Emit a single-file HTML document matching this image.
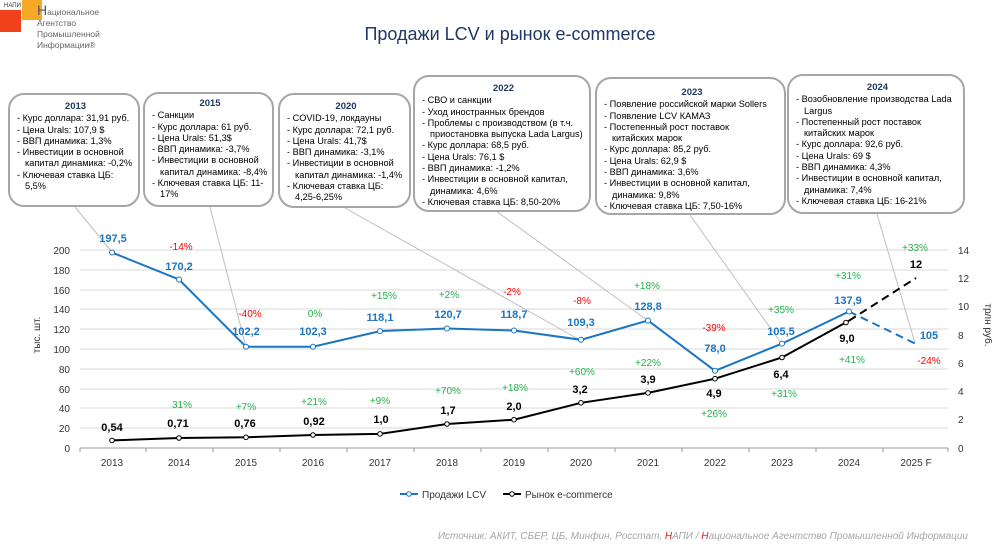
<!DOCTYPE html>
<html><head><meta charset="utf-8"><style>
body{margin:0;background:#fff;width:992px;height:550px;overflow:hidden;font-family:"Liberation Sans",Arial,sans-serif}
.box{position:absolute;border:2px solid #a6a6a6;border-radius:16px;background:#fff;font-size:9.2px;line-height:11.3px;color:#000;padding:6px 4px 0 7px;box-sizing:border-box}
.box b{display:block;text-align:center;color:#1f3864;font-size:9.5px;margin-bottom:1px}
.box div{padding-left:8px;text-indent:-8px}
</style></head><body>
<div style="position:absolute;left:0;top:10px;width:21px;height:22px;background:#f0401c"></div>
<div style="position:absolute;left:22px;top:0;width:20px;height:20px;background:#f6a927"></div>
<div style="position:absolute;left:4px;top:3px;font-size:6px;color:#333">НАПИ</div>
<div style="position:absolute;left:37px;top:5px;font-size:8.5px;line-height:11px;color:#666"><span style="font-size:14px;color:#555">Н</span>ациональное<br>Агентство<br>Промышленной<br>Информации®</div>
<div style="position:absolute;left:0;width:992px;top:24px;text-align:center;font-size:18px;color:#1f3864;padding-left:28px;box-sizing:border-box">Продажи LCV и рынок e-commerce</div>

<svg style="position:absolute;left:0;top:0" width="992" height="550">
<g stroke="#d9d9d9" stroke-width="1">
<line x1="80" y1="250" x2="948" y2="250"/><line x1="80" y1="270" x2="948" y2="270"/><line x1="80" y1="290" x2="948" y2="290"/><line x1="80" y1="309" x2="948" y2="309"/><line x1="80" y1="329" x2="948" y2="329"/><line x1="80" y1="349" x2="948" y2="349"/><line x1="80" y1="369" x2="948" y2="369"/><line x1="80" y1="389" x2="948" y2="389"/><line x1="80" y1="408" x2="948" y2="408"/><line x1="80" y1="428" x2="948" y2="428"/>
</g>
<line x1="80" y1="448" x2="948" y2="448" stroke="#999"/>
<g stroke="#999"><line x1="80" y1="448" x2="80" y2="452"/><line x1="146" y1="448" x2="146" y2="452"/><line x1="213" y1="448" x2="213" y2="452"/><line x1="280" y1="448" x2="280" y2="452"/><line x1="347" y1="448" x2="347" y2="452"/><line x1="414" y1="448" x2="414" y2="452"/><line x1="481" y1="448" x2="481" y2="452"/><line x1="548" y1="448" x2="548" y2="452"/><line x1="615" y1="448" x2="615" y2="452"/><line x1="682" y1="448" x2="682" y2="452"/><line x1="749" y1="448" x2="749" y2="452"/><line x1="816" y1="448" x2="816" y2="452"/><line x1="883" y1="448" x2="883" y2="452"/><line x1="948" y1="448" x2="948" y2="452"/></g>
<g stroke="#bfbfbf" stroke-width="1">
<line x1="75" y1="207" x2="112" y2="252"/><line x1="210" y1="207" x2="246" y2="347"/><line x1="345" y1="208" x2="580" y2="340"/><line x1="496" y1="211" x2="647" y2="320"/><line x1="690" y1="215" x2="781" y2="343"/><line x1="877" y1="214" x2="915" y2="343"/>
</g>
<polyline fill="none" stroke="#000" stroke-width="2" points="112,440.4 179,438 246,437.3 313,435 380,433.9 447,424 514,419.7 581,402.8 648,392.9 715,378.7 782,357.5 849,320.7"/>
<line x1="849" y1="320.7" x2="916" y2="278" stroke="#000" stroke-width="2" stroke-dasharray="8,5"/>
<polyline fill="none" stroke="#1a75c2" stroke-width="2" points="112,252.5 179,279.5 246,346.8 313,346.7 380,331.1 447,328.5 514,330.5 581,339.8 648,320.5 715,370.8 782,343.6 849,311.5"/>
<line x1="849" y1="311.5" x2="916" y2="344" stroke="#1a75c2" stroke-width="2" stroke-dasharray="8,5"/>
<g fill="#fff" stroke="#1a75c2" stroke-width="1"><circle cx="112" cy="252.5" r="2.5"/><circle cx="179" cy="279.5" r="2.5"/><circle cx="246" cy="346.8" r="2.5"/><circle cx="313" cy="346.7" r="2.5"/><circle cx="380" cy="331.1" r="2.5"/><circle cx="447" cy="328.5" r="2.5"/><circle cx="514" cy="330.5" r="2.5"/><circle cx="581" cy="339.8" r="2.5"/><circle cx="648" cy="320.5" r="2.5"/><circle cx="715" cy="370.8" r="2.5"/><circle cx="782" cy="343.6" r="2.5"/><circle cx="849" cy="311.5" r="2.5"/></g>
<g fill="#fff" stroke="#000" stroke-width="1"><circle cx="112" cy="440.4" r="2.3"/><circle cx="179" cy="438" r="2.3"/><circle cx="246" cy="437.3" r="2.3"/><circle cx="313" cy="435" r="2.3"/><circle cx="380" cy="433.9" r="2.3"/><circle cx="447" cy="424" r="2.3"/><circle cx="514" cy="419.7" r="2.3"/><circle cx="581" cy="402.8" r="2.3"/><circle cx="648" cy="392.9" r="2.3"/><circle cx="715" cy="378.7" r="2.3"/><circle cx="782" cy="357.5" r="2.3"/><circle cx="846" cy="322.5" r="2.3"/></g>
<g font-size="10" fill="#333" text-anchor="end"><text x="70" y="254">200</text><text x="70" y="274">180</text><text x="70" y="294">160</text><text x="70" y="313">140</text><text x="70" y="333">120</text><text x="70" y="353">100</text><text x="70" y="373">80</text><text x="70" y="393">60</text><text x="70" y="412">40</text><text x="70" y="432">20</text><text x="70" y="452">0</text></g>
<g font-size="10" fill="#333"><text x="958" y="254">14</text><text x="958" y="282">12</text><text x="958" y="310">10</text><text x="958" y="339">8</text><text x="958" y="367">6</text><text x="958" y="395">4</text><text x="958" y="423">2</text><text x="958" y="452">0</text></g>
<text transform="translate(40,335) rotate(-90)" font-size="10" fill="#333" text-anchor="middle">тыс. шт.</text>
<text transform="translate(985,325) rotate(90)" font-size="10" fill="#333" text-anchor="middle">трлн руб.</text>
<g font-size="10" fill="#333" text-anchor="middle"><text x="112" y="466">2013</text><text x="179" y="466">2014</text><text x="246" y="466">2015</text><text x="313" y="466">2016</text><text x="380" y="466">2017</text><text x="447" y="466">2018</text><text x="514" y="466">2019</text><text x="581" y="466">2020</text><text x="648" y="466">2021</text><text x="715" y="466">2022</text><text x="782" y="466">2023</text><text x="849" y="466">2024</text><text x="916" y="466">2025 F</text></g>
<g font-size="11" font-weight="bold" fill="#1a75c2" text-anchor="middle"><text x="113" y="242">197,5</text><text x="179" y="270">170,2</text><text x="246" y="335">102,2</text><text x="313" y="335">102,3</text><text x="380" y="321">118,1</text><text x="448" y="318">120,7</text><text x="514" y="318">118,7</text><text x="581" y="326">109,3</text><text x="648" y="310">128,8</text><text x="715" y="352">78,0</text><text x="781" y="335">105,5</text><text x="848" y="304">137,9</text><text x="929" y="339">105</text></g>
<g font-size="10" fill="#ff0000" text-anchor="middle"><text x="181" y="250">-14%</text><text x="250" y="317">-40%</text><text x="512" y="295">-2%</text><text x="582" y="304">-8%</text><text x="714" y="331">-39%</text><text x="929" y="364">-24%</text></g>
<g font-size="10" fill="#22b04b" text-anchor="middle"><text x="315" y="317">0%</text><text x="384" y="299">+15%</text><text x="449" y="298">+2%</text><text x="647" y="289">+18%</text><text x="781" y="313">+35%</text><text x="848" y="279">+31%</text><text x="915" y="251">+33%</text><text x="182" y="408">31%</text><text x="246" y="410">+7%</text><text x="314" y="405">+21%</text><text x="380" y="404">+9%</text><text x="448" y="394">+70%</text><text x="515" y="391">+18%</text><text x="582" y="375">+60%</text><text x="648" y="366">+22%</text><text x="714" y="417">+26%</text><text x="784" y="397">+31%</text><text x="852" y="363">+41%</text></g>
<g font-size="11" font-weight="bold" fill="#000" text-anchor="middle"><text x="112" y="431">0,54</text><text x="178" y="427">0,71</text><text x="245" y="427">0,76</text><text x="314" y="425">0,92</text><text x="381" y="423">1,0</text><text x="448" y="414">1,7</text><text x="514" y="410">2,0</text><text x="580" y="393">3,2</text><text x="648" y="383">3,9</text><text x="714" y="397">4,9</text><text x="781" y="378">6,4</text><text x="847" y="342">9,0</text><text x="916" y="268">12</text></g>
<line x1="400" y1="494" x2="418" y2="494" stroke="#1a75c2" stroke-width="2"/><circle cx="409" cy="494" r="2.3" fill="#fff" stroke="#1a75c2"/>
<text x="422" y="498" font-size="10" fill="#333">Продажи LCV</text>
<line x1="503" y1="494" x2="521" y2="494" stroke="#000" stroke-width="2"/><circle cx="512" cy="494" r="2.3" fill="#fff" stroke="#000"/>
<text x="525" y="498" font-size="10" fill="#333">Рынок e-commerce</text>
<text x="968" y="539" font-size="10" font-style="italic" fill="#a6a6a6" text-anchor="end">Источник: АКИТ, СБЕР, ЦБ, Минфин, Росстат, <tspan fill="#e02020">Н</tspan>АПИ / <tspan fill="#e02020">Н</tspan>ациональное Агентство Промышленной Информации</text>
</svg>

<div class="box" style="left:8px;top:93px;width:132px;height:114px"><b>2013</b><div>- Курс доллара: 31,91 руб.</div><div>- Цена Urals: 107,9 $</div><div>- ВВП динамика: 1,3%</div><div>- Инвестиции в основной капитал динамика: -0,2%</div><div>- Ключевая ставка ЦБ: 5,5%</div></div>
<div class="box" style="left:143px;top:92px;width:131px;height:115px;padding-top:4px"><b>2015</b><div>- Санкции</div><div>- Курс доллара: 61 руб.</div><div>- Цена Urals: 51,3$</div><div>- ВВП динамика: -3,7%</div><div>- Инвестиции в основной капитал динамика: -8,4%</div><div>- Ключевая ставка ЦБ: 11-17%</div></div>
<div class="box" style="left:278px;top:93px;width:133px;height:115px"><b>2020</b><div>- COVID-19, локдауны</div><div>- Курс доллара: 72,1 руб.</div><div>- Цена Urals: 41,7$</div><div>- ВВП динамика: -3,1%</div><div>- Инвестиции в основной капитал динамика: -1,4%</div><div>- Ключевая ставка ЦБ: 4,25-6,25%</div></div>
<div class="box" style="left:413px;top:75px;width:178px;height:137px"><b>2022</b><div>- СВО и санкции</div><div>- Уход иностранных брендов</div><div>- Проблемы с производством (в т.ч. приостановка выпуска Lada Largus)</div><div>- Курс доллара: 68,5 руб.</div><div>- Цена Urals: 76,1 $</div><div>- ВВП динамика: -1,2%</div><div>- Инвестиции в основной капитал, динамика: 4,6%</div><div>- Ключевая ставка ЦБ: 8,50-20%</div></div>
<div class="box" style="left:595px;top:77px;width:191px;height:138px;padding-top:8px"><b>2023</b><div>- Появление российской марки Sollers</div><div>- Появление LCV КАМАЗ</div><div>- Постепенный рост поставок<br>китайских марок</div><div>- Курс доллара: 85,2 руб.</div><div>- Цена Urals: 62,9 $</div><div>- ВВП динамика: 3,6%</div><div>- Инвестиции в основной капитал, динамика: 9,8%</div><div>- Ключевая ставка ЦБ: 7,50-16%</div></div>
<div class="box" style="left:787px;top:74px;width:178px;height:140px"><b>2024</b><div>- Возобновление производства Lada Largus</div><div>- Постепенный рост поставок<br>китайских марок</div><div>- Курс доллара: 92,6 руб.</div><div>- Цена Urals: 69 $</div><div>- ВВП динамика: 4,3%</div><div>- Инвестиции в основной капитал, динамика: 7,4%</div><div>- Ключевая ставка ЦБ: 16-21%</div></div>
</body></html>
